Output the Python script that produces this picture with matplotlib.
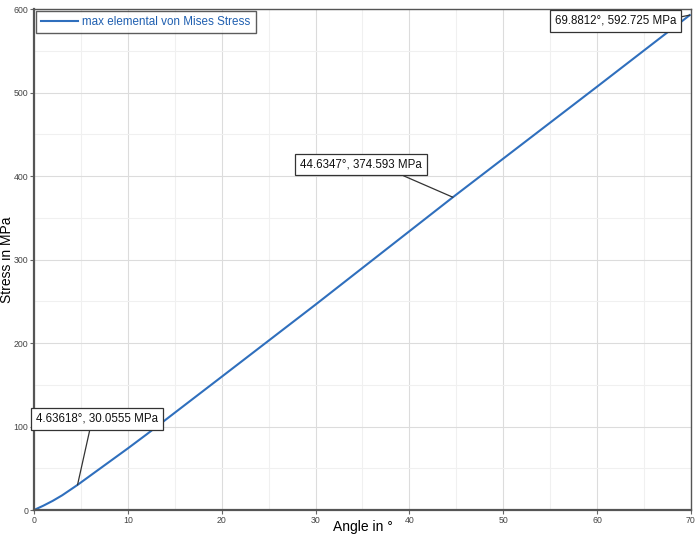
import matplotlib
matplotlib.use("Agg")
import matplotlib.pyplot as plt

angle = [0, 1, 2, 3, 4, 4.63618, 6, 8, 10, 12, 15, 20, 30, 44.6347, 60, 69.8812]
stress = [0, 5.2, 11.0, 17.6, 25.2, 30.0555, 41.2, 57.5, 73.8, 90.6, 116.5, 159.6, 246.0, 374.593, 507.0, 592.725]

ann_points = [(4.63618, 30.0555), (44.6347, 374.593), (69.8812, 592.725)]
ann_labels = ["4.63618°, 30.0555 MPa", "44.6347°, 374.593 MPa", "69.8812°, 592.725 MPa"]
ann_text_pos = [(6.71, 109.0), (34.84, 413.8), (62.0, 586.0)]
ann_relpos = [(0.45, 0.0), (0.75, 0.0), (1.0, 0.75)]

fig = plt.figure(figsize=(7.0, 5.41), dpi=100)
ax = fig.add_axes([0.0486, 0.0573, 0.9384, 0.926])

line_color = "#2f6fbd"
ax.plot(angle, stress, color=line_color, lw=1.5, label="max elemental von Mises Stress")

ax.set_xlim(0, 70)
ax.set_ylim(0, 600)
ax.set_xticks(range(0, 71, 10))
ax.set_yticks(range(0, 601, 100))
ax.set_xticks(range(5, 70, 10), minor=True)
ax.set_yticks(range(50, 600, 100), minor=True)
ax.grid(True, which="major", color="#dcdcdc", lw=0.8)
ax.grid(True, which="minor", color="#f0f0f0", lw=0.8)
ax.set_axisbelow(True)

ax.tick_params(axis="both", which="major", labelsize=6.3, labelcolor="#444444",
               length=3, width=0.8, color="#666666", pad=1.2)
ax.tick_params(axis="both", which="minor", length=0)
for lab in ax.get_xticklabels() + ax.get_yticklabels():
    lab.set_fontfamily("Liberation Sans")

for s in ax.spines.values():
    s.set_color("#555555")
    s.set_linewidth(1.0)
ax.spines["left"].set_linewidth(1.6)
ax.spines["bottom"].set_linewidth(1.6)

fig.text(0.519, 0.026, "Angle in °", ha="center", va="center", fontsize=10, family="Liberation Sans")
fig.text(0.0105, 0.519, "Stress in MPa", ha="center", va="center", rotation=90,
         fontsize=10, family="Liberation Sans")

leg = ax.legend(loc="upper left", frameon=True, fancybox=False,
                prop={"family": "Liberation Sans", "size": 8.4},
                borderaxespad=0.15, handlelength=3.2, borderpad=0.45, handletextpad=0.35)
leg.get_frame().set_edgecolor("#333333")
leg.get_frame().set_linewidth(1.0)
for t in leg.get_texts():
    t.set_color("#1f5fb0")

for (px, py), lab, (tx, ty), rp in zip(ann_points, ann_labels, ann_text_pos, ann_relpos):
    ax.annotate(lab, xy=(px, py), xytext=(tx, ty), textcoords="data",
                ha="center", va="center", fontsize=8.3, family="Liberation Sans",
                color="#111111",
                bbox=dict(boxstyle="square,pad=0.42", fc="white", ec="#333333", lw=0.9),
                arrowprops=dict(arrowstyle="-", color="#333333", lw=0.9,
                                relpos=rp, shrinkA=0, shrinkB=0))

fig.savefig("out.png", dpi=100)
